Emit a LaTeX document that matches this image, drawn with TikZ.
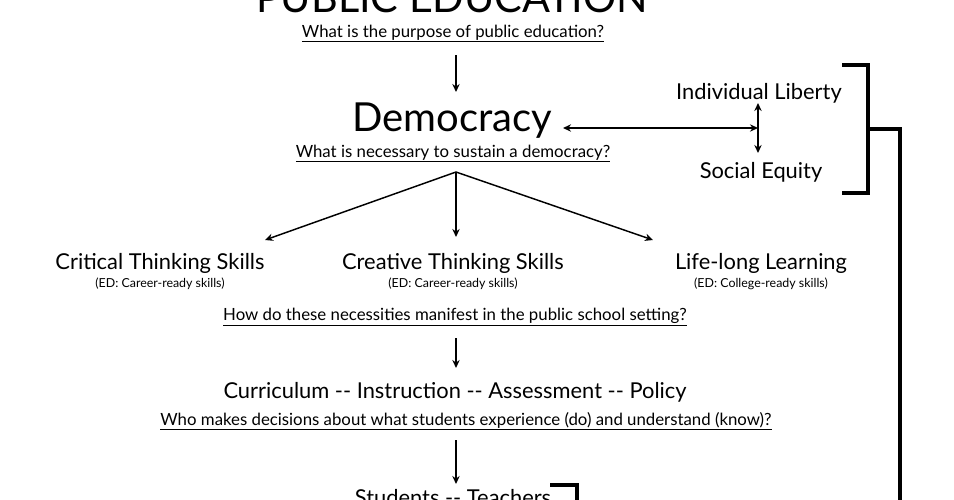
\documentclass[tikz,border=0pt]{standalone}
\usepackage{fontspec}
\setmainfont{Lato}
\usetikzlibrary{positioning, arrows.meta}

\begin{document}
\begin{tikzpicture}[
        x=0.75pt, y=-0.75pt,
        every node/.style={anchor=base, inner sep=0pt},
        big_text/.style={font=\fontsize{30}{34}\selectfont},
        item_text/.style={font=\fontsize{16.4}{19}\selectfont},
        note_text/.style={font=\fontsize{9.3}{11}\selectfont},
        question/.style={font=\fontsize{12.6}{15}\selectfont},
        arrow/.style={draw, line width=1.1pt, -{Stealth[length=6pt, width=5.5pt]}},
        twoway/.style={draw, line width=1.1pt, {Stealth[length=6pt, width=5.5pt]}-{Stealth[length=6pt, width=5.5pt]}},
        bracket/.style={draw, line width=2.3pt}
    ]
    \useasboundingbox (0,0) rectangle (954,500);
    \clip (0,0) rectangle (954,500);

    % --- Top of the chain ---
    \node[big_text, font=\fontsize{31}{36}\selectfont] (title) at (452,12) {PUBLIC EDUCATION};
    \node[question] (purpose_q) at (453,37) {\underline{What is the purpose of public education?}};
    \node[big_text] (democracy) at (452,131) {Democracy};
    \node[question] (sustain_q) at (453,157) {\underline{What is necessary to sustain a democracy?}};

    % --- Values beside democracy ---
    \node[item_text] (liberty) at (759,99) {Individual Liberty};
    \node[item_text] (equity) at (761,178) {Social Equity};
    \coordinate (hub) at (758,128);

    % --- The three necessities ---
    \node[item_text] (critical) at (160,269) {Critical Thinking Skills};
    \node[note_text] (critical_ed) at ([yshift=-13.5pt]critical.base) {(ED: Career-ready skills)};
    \node[item_text] (creative) at (453,269) {Creative Thinking Skills};
    \node[note_text] (creative_ed) at ([yshift=-13.5pt]creative.base) {(ED: Career-ready skills)};
    \node[item_text] (lifelong) at (761,269) {Life-long Learning};
    \node[note_text] (lifelong_ed) at ([yshift=-13.5pt]lifelong.base) {(ED: College-ready skills)};

    \node[question] (manifest_q) at (455,320) {\underline{How do these necessities manifest in the public school setting?}};
    \node[item_text] (practice) at (455,398) {Curriculum -{}- Instruction -{}- Assessment -{}- Policy};
    \node[question] (decide_q) at (466,425) {\underline{Who makes decisions about what students experience (do) and understand (know)?}};
    \node[item_text] (actors) at (453,505) {Students -{}- Teachers};

    % --- Arrows down the middle ---
    \coordinate (fork) at (456,172);
    \draw[arrow] (456,55) -- (456,92);
    \draw[arrow] (fork) -- (265,240);
    \draw[arrow] (fork) -- (456,237);
    \draw[arrow] (fork) -- (653,240);
    \draw[arrow] (456,338) -- (456,368);
    \draw[arrow] (456,440) -- (456,484);

    % Democracy <-> liberty / equity
    \draw[twoway] (563,128) -- (hub);
    \draw[twoway] (758,103) -- (758,153);

    % --- Brackets ---
    \draw[bracket] (842,65) -- (868,65) -- (868,193) -- (842,193);
    \draw[bracket] (868,129) -- (900,129) -- (900,510);
    \draw[bracket] (550,485) -- (577,485) -- (577,510);

\end{tikzpicture}
\end{document}
